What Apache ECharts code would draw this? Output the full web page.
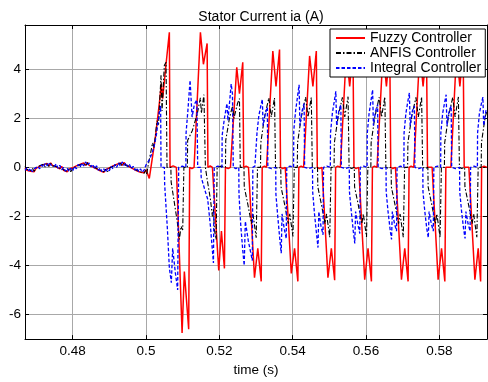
<!DOCTYPE html>
<html>
<head>
<meta charset="utf-8">
<script src="https://cdn.jsdelivr.net/npm/echarts@6/dist/echarts.min.js"></script>
<style>
  html, body { margin: 0; padding: 0; background: #ffffff; }
  #chart { width: 488px; height: 382px; }
</style>
</head>
<body>
<div id="chart"></div>
<script>
// Axis ticks
const xTicks = [0.48, 0.5, 0.52, 0.54, 0.56, 0.58];
const yTicks = [-6, -4, -2, 0, 2, 4];

// Sample times before the load step (shared by the three controllers)
const preStepTime = [
  0.4670, 0.4675, 0.4680, 0.4685, 0.4690, 0.4695, 0.4700, 0.4705, 0.4710, 0.4715,
  0.4720, 0.4725, 0.4730, 0.4735, 0.4740, 0.4745, 0.4750, 0.4755, 0.4760, 0.4765,
  0.4770, 0.4775, 0.4780, 0.4785, 0.4790, 0.4795, 0.4800, 0.4805, 0.4810, 0.4815,
  0.4820, 0.4825, 0.4830, 0.4835, 0.4840, 0.4845, 0.4850, 0.4855, 0.4860, 0.4865,
  0.4870, 0.4875, 0.4880, 0.4885, 0.4890, 0.4895, 0.4900, 0.4905, 0.4910, 0.4915,
  0.4920, 0.4925, 0.4930, 0.4935, 0.4940, 0.4945, 0.4950, 0.4955, 0.4960, 0.4965,
  0.4970, 0.4975, 0.4980, 0.4985, 0.4990, 0.4995
];

// Fuzzy Controller stator current
const fuzzyPre = [
  -0.02, -0.12, -0.04, -0.16, -0.08, -0.18, -0.04, -0.12, 0.04, -0.04,
  0.10, 0.02, 0.16, 0.06, 0.18, 0.08, 0.16, 0.02, 0.10, -0.06,
  0.04, -0.12, -0.04, -0.18, -0.08, -0.16, -0.02, -0.10, 0.06, -0.02,
  0.12, 0.04, 0.18, 0.08, 0.20, 0.08, 0.16, 0.02, 0.08, -0.06,
  0.02, -0.14, -0.06, -0.20, -0.10, -0.16, -0.02, -0.10, 0.06, -0.02,
  0.12, 0.04, 0.18, 0.08, 0.20, 0.10, 0.16, 0.02, 0.08, -0.06,
  0.00, -0.14, -0.06, -0.20, -0.12, -0.22
];
const fuzzyTime = [
  0.500,
  0.5009, 0.50145, 0.50254, 0.50363, 0.50418, 0.50454, 0.50546, 0.50637, 0.50656, 0.5074,
  0.50828, 0.50984, 0.51046, 0.51164, 0.51191, 0.5125,
  0.51311, 0.51484, 0.51566, 0.51667, 0.51689, 0.5175,
  0.51811, 0.51984, 0.52057, 0.52139, 0.52167, 0.5224,
  0.52303, 0.52475, 0.52549, 0.52639, 0.52664, 0.5273,
  0.52795, 0.52959, 0.53049, 0.53142, 0.53169, 0.5323,
  0.53287, 0.53459, 0.53546, 0.53642, 0.53669, 0.5373,
  0.53798, 0.53962, 0.54052, 0.54142, 0.54169, 0.5423,
  0.54298, 0.54462, 0.54552, 0.54645, 0.54672, 0.5473,
  0.54798, 0.54962, 0.55055, 0.55145, 0.55172, 0.5523,
  0.55301, 0.55464, 0.55555, 0.55645, 0.55672, 0.5573,
  0.55801, 0.55965, 0.56055, 0.56148, 0.56175, 0.5623,
  0.56301, 0.56464, 0.56557, 0.56648, 0.56675, 0.5673,
  0.56803, 0.56967, 0.57057, 0.57148, 0.57175, 0.5723,
  0.57303, 0.57467, 0.57557, 0.5765, 0.57678, 0.5773,
  0.57803, 0.57967, 0.5806, 0.5815, 0.58178, 0.5823,
  0.58314, 0.5847, 0.5856, 0.5865, 0.58678, 0.5873,
  0.58806, 0.5897, 0.5906, 0.59126, 0.59153, 0.5922, 0.593
];
const fuzzyCurrent = [
  -0.10,
  -0.45, 0.10, 1.2, 2.6, 3.4, 2.8, 4.2, 5.5, 0, 0.06,
  0, -6.75, -4.25, -6.6, 0, -0.05,
  0, 5.5, 4.2, 5.05, 0, 0.06,
  0, -4.2, -2.6, -4.12, 0, -0.05,
  0, 4.08, 3.0, 4.28, 0, 0.05,
  0, -4.5, -3.3, -4.65, 0, 0.05,
  0, 4.74, 3.3, 4.8, 0, -0.05,
  0, -4.32, -3.3, -4.65, 0, 0.05,
  0, 4.54, 3.3, 4.74, 0, -0.05,
  0, -4.5, -3.3, -4.6, 0, 0.05,
  0, 4.7, 3.3, 4.75, 0, -0.05,
  0, -4.58, -3.3, -4.65, 0, 0.05,
  0, 4.7, 3.3, 4.75, 0, -0.05,
  0, -4.58, -3.3, -4.65, 0, 0.05,
  0, 4.7, 3.3, 4.75, 0, -0.05,
  0, -4.58, -3.3, -4.65, 0, 0.05,
  0, 4.7, 3.3, 4.75, 0, -0.05,
  0, -4.58, -3.3, -4.65, 0, 0.05, 0
];

// ANFIS Controller stator current
const anfisPre = [
  0.04, -0.08, 0.00, -0.14, -0.04, -0.16, -0.02, -0.10, 0.06, -0.02,
  0.12, 0.02, 0.14, 0.04, 0.16, 0.06, 0.14, 0.04, 0.10, -0.04,
  0.04, -0.10, -0.02, -0.16, -0.06, -0.18, -0.04, -0.12, 0.04, -0.04,
  0.10, 0.02, 0.16, 0.06, 0.18, 0.06, 0.14, 0.04, 0.10, -0.04,
  0.00, -0.12, -0.04, -0.18, -0.08, -0.18, -0.04, -0.12, 0.04, -0.04,
  0.12, 0.04, 0.16, 0.06, 0.18, 0.08, 0.14, 0.04, 0.08, -0.04,
  -0.02, -0.12, -0.04, -0.18, -0.10, -0.24
];
const anfisTime = [
  0.500,
  0.5002, 0.50049, 0.5018, 0.5022, 0.5030, 0.5034, 0.5041, 0.50437, 0.505, 0.50546, 0.50573, 0.5062,
  0.50678, 0.50686, 0.50769, 0.50851, 0.50911, 0.50956, 0.51001, 0.51033, 0.5108,
  0.51128, 0.51136, 0.51265, 0.51401, 0.51483, 0.5151, 0.51579, 0.5162,
  0.51661, 0.51669, 0.51757, 0.51811, 0.51839, 0.51866, 0.51913, 0.5194, 0.5205,
  0.52167, 0.52175, 0.52276, 0.52358, 0.52399, 0.52495, 0.52549, 0.52571, 0.5262,
  0.52672, 0.5268, 0.52776, 0.52877, 0.52918, 0.53005, 0.53041, 0.5308,
  0.53123, 0.53131, 0.53232, 0.5335, 0.53415, 0.53505, 0.53533, 0.5360,
  0.53675, 0.53683, 0.53779, 0.5388, 0.53921, 0.54008, 0.54044, 0.5408,
  0.54126, 0.54134, 0.54235, 0.54353, 0.54418, 0.54508, 0.54536, 0.5460,
  0.54678, 0.54686, 0.54782, 0.54883, 0.54924, 0.55011, 0.55047, 0.5509,
  0.55129, 0.55137, 0.55238, 0.55356, 0.55421, 0.55511, 0.55539, 0.5561,
  0.55681, 0.55689, 0.55785, 0.55886, 0.55927, 0.56014, 0.5605, 0.5609,
  0.56132, 0.5614, 0.56241, 0.56359, 0.56424, 0.56514, 0.56542, 0.5661,
  0.56684, 0.56692, 0.56788, 0.56889, 0.5693, 0.57017, 0.57053, 0.5709,
  0.57135, 0.57143, 0.57244, 0.57362, 0.57427, 0.57517, 0.57545, 0.5761,
  0.57687, 0.57695, 0.57791, 0.57892, 0.57933, 0.5802, 0.58056, 0.5810,
  0.58138, 0.58146, 0.58247, 0.58365, 0.5843, 0.5852, 0.58548, 0.5861,
  0.5869, 0.58698, 0.58794, 0.58895, 0.58936, 0.59023, 0.59059, 0.591,
  0.59141, 0.59149, 0.5925, 0.593
];
const anfisCurrent = [
  -0.10,
  -0.30, 0, 1.0, 0.8, 1.9, 1.7, 3.75, 2.3, 4.15, 4.28, 0, 0.05,
  0, -0.6, -1.4, -2.2, -2.94, -2.4, -2.55, 0, 0.05,
  0, 1.1, 1.5, 2.2, 2.83, 2.2, 2.96, 0,
  0, -0.5, -1.3, -2.0, -1.7, -2.55, -2.94, 0, 0.05,
  0, 1.1, 2.0, 2.5, 2.0, 2.6, 2.8, 0, -0.05,
  0, -0.8, -1.5, -2.3, -1.9, -2.87, 0, 0.05,
  0, 1.0, 2.05, 2.83, 2.05, 2.83, 0, -0.05,
  0, -0.8, -1.5, -2.3, -1.9, -2.82, 0, 0.05,
  0, 1.0, 2.05, 2.86, 2.05, 2.85, 0, -0.05,
  0, -0.8, -1.5, -2.3, -1.9, -2.85, 0, 0.05,
  0, 1.0, 2.05, 2.85, 2.05, 2.88, 0, -0.05,
  0, -0.8, -1.5, -2.3, -1.9, -2.84, 0, 0.05,
  0, 1.0, 2.05, 2.85, 2.05, 2.87, 0, -0.05,
  0, -0.8, -1.5, -2.3, -1.9, -2.85, 0, 0.05,
  0, 1.0, 2.05, 2.85, 2.05, 2.87, 0, -0.05,
  0, -0.8, -1.5, -2.3, -1.9, -2.85, 0, 0.05,
  0, 1.0, 2.05, 2.85, 2.05, 2.87, 0, -0.05,
  0, -0.8, -1.5, -2.3, -1.9, -2.85, 0, 0.05,
  0, 1.0, 2.05, 2.3
];

// Integral Controller stator current
const integralPre = [
  -0.12, -0.02, -0.14, -0.04, -0.18, -0.06, -0.12, 0.04, -0.06, 0.10,
  0.00, 0.16, 0.06, 0.20, 0.10, 0.18, 0.04, 0.14, -0.04, 0.08,
  -0.10, 0.00, -0.16, -0.04, -0.18, -0.04, -0.14, 0.04, -0.06, 0.12,
  0.00, 0.18, 0.06, 0.22, 0.08, 0.18, 0.02, 0.12, -0.06, 0.06,
  -0.12, -0.02, -0.18, -0.06, -0.20, -0.04, -0.14, 0.04, -0.06, 0.12,
  0.00, 0.18, 0.06, 0.22, 0.08, 0.18, 0.02, 0.12, -0.06, 0.04,
  -0.12, -0.02, -0.18, -0.06, -0.20, -0.10
];
const integralTime = [
  0.5000, 0.5009, 0.50172, 0.50227, 0.50281, 0.50363, 0.50399, 0.5041, 0.5046,
  0.50501, 0.50509, 0.50583, 0.50637, 0.50691, 0.50727, 0.50801, 0.50863, 0.50891, 0.5099,
  0.51087, 0.51093, 0.51142, 0.51202, 0.51257, 0.5132, 0.51388, 0.5141, 0.5145,
  0.51497, 0.51505, 0.5162, 0.51683, 0.51757, 0.51839, 0.51861, 0.5196,
  0.52072, 0.52077, 0.52139, 0.52208, 0.52235, 0.52323, 0.52358, 0.5238, 0.5245,
  0.52531, 0.52536, 0.52586, 0.5264, 0.52678, 0.52709, 0.52791, 0.529, 0.52914, 0.5297,
  0.53022, 0.53027, 0.53077, 0.53131, 0.53172, 0.53194, 0.53254, 0.53309, 0.53323, 0.5343,
  0.53538, 0.53543, 0.53593, 0.53647, 0.53688, 0.5371, 0.5377, 0.53825, 0.53839, 0.5393,
  0.54025, 0.5403, 0.5408, 0.54134, 0.54175, 0.54197, 0.54257, 0.54312, 0.54326, 0.5443,
  0.54541, 0.54546, 0.54596, 0.5465, 0.54691, 0.54713, 0.54773, 0.54828, 0.54842, 0.5493,
  0.55027, 0.55032, 0.55082, 0.55136, 0.55177, 0.55199, 0.55259, 0.55314, 0.55328, 0.5543,
  0.55544, 0.55549, 0.55599, 0.55653, 0.55694, 0.55716, 0.55776, 0.55831, 0.55845, 0.5594,
  0.5603, 0.56035, 0.56085, 0.56139, 0.5618, 0.56202, 0.56262, 0.56317, 0.56331, 0.5644,
  0.56546, 0.56551, 0.56601, 0.56655, 0.56696, 0.56718, 0.56778, 0.56833, 0.56847, 0.5694,
  0.57033, 0.57038, 0.57088, 0.57142, 0.57183, 0.57205, 0.57265, 0.5732, 0.57334, 0.5744,
  0.57549, 0.57554, 0.57604, 0.57658, 0.57699, 0.57721, 0.57781, 0.57836, 0.5785, 0.5795,
  0.58036, 0.58041, 0.58091, 0.58145, 0.58186, 0.58208, 0.58268, 0.58323, 0.58337, 0.5844,
  0.58552, 0.58557, 0.58607, 0.58661, 0.58702, 0.58724, 0.58784, 0.58839, 0.58853, 0.5895,
  0.59038, 0.59043, 0.59093, 0.59147, 0.59188, 0.5921, 0.5927, 0.593
];
const integralCurrent = [
  0.10, 0.30, 0.6, 0.9, 1.3, 2.24, 2.5, 0, 0.05,
  0, -0.7, -2.5, -4.1, -4.7, -3.3, -4.3, -5.0, 0, 0.05,
  0, 1.4, 2.3, 3.55, 2.05, 2.57, 2.75, 0, -0.05,
  0, -0.4, -1.0, -1.3, -2.4, -3.9, 0, 0.05,
  0, 1.3, 2.0, 2.6, 1.9, 3.4, 3.0, 0, -0.05,
  0, -1.1, -2.4, -3.4, -4.0, -2.2, -3.0, -3.8, 0, 0.05,
  0, 1.4, 2.1, 2.5, 2.77, 1.7, 2.2, 2.45, 0, -0.05,
  0, -1.1, -2.0, -2.9, -3.5, -1.9, -2.5, -2.9, 0, 0.05,
  0, 1.5, 2.3, 2.9, 3.36, 1.7, 2.3, 2.6, 0, -0.05,
  0, -1.0, -1.9, -2.7, -3.27, -1.8, -2.4, -2.75, 0, 0.05,
  0, 1.4, 2.2, 2.7, 3.1, 1.7, 2.3, 2.55, 0, -0.05,
  0, -1.0, -1.8, -2.6, -3.1, -1.8, -2.3, -2.7, 0, 0.05,
  0, 1.4, 2.2, 2.75, 3.16, 1.7, 2.3, 2.55, 0, -0.05,
  0, -1.0, -1.8, -2.5, -2.94, -1.8, -2.3, -2.6, 0, 0.05,
  0, 1.4, 2.2, 2.7, 3.03, 1.7, 2.3, 2.5, 0, -0.05,
  0, -1.0, -1.8, -2.5, -2.87, -1.8, -2.3, -2.6, 0, 0.05,
  0, 1.4, 2.2, 2.65, 2.96, 1.7, 2.3, 2.5, 0, -0.05,
  0, -1.0, -1.8, -2.5, -2.9, -1.8, -2.3, -2.6, 0, 0.05,
  0, 1.4, 2.2, 2.6, 2.86, 1.7, 2.3, 2.4
];

// Join a pre-step segment and a post-step segment into [time, current] pairs
function pairs(preValues, times, values) {
  const out = preStepTime.map((t, i) => [t, preValues[i]]);
  times.forEach((t, i) => out.push([t, values[i]]));
  return out;
}

const FONT = 'Liberation Sans, Arial, Helvetica, sans-serif';
const X_MIN = 0.467, X_MAX = 0.593, Y_MIN = -7, Y_MAX = 5.8;

const chart = echarts.init(document.getElementById('chart'), null, { renderer: 'canvas' });

const mirrorTick = { show: true, inside: true, length: 4, lineStyle: { color: '#000', width: 1 } };

chart.setOption({
  animation: false,
  backgroundColor: '#ffffff',
  title: {
    text: 'Stator Current ia (A)',
    left: 256, top: 5, textAlign: 'center',
    textStyle: { fontFamily: FONT, fontSize: 14, fontWeight: 'normal', color: '#000' }
  },
  grid: { left: 25, right: 1, top: 25, bottom: 33, containLabel: false },
  legend: {
    orient: 'vertical',
    left: 330, top: 29,
    padding: [2, 4, 2, 5],
    itemGap: 1,
    itemWidth: 29,
    itemHeight: 14,
    backgroundColor: '#ffffff',
    borderColor: '#000000',
    borderWidth: 1,
    borderRadius: 0,
    itemStyle: { opacity: 0 },
    textStyle: { fontFamily: FONT, fontSize: 14, color: '#000', lineHeight: 14 },
    data: ['Fuzzy Controller', 'ANFIS Controller', 'Integral Controller']
  },
  xAxis: [
    {
      type: 'value', min: X_MIN, max: X_MAX, position: 'bottom',
      name: 'time (s)', nameLocation: 'middle', nameGap: 17,
      nameTextStyle: { fontFamily: FONT, fontSize: 13.5, color: '#000' },
      axisLine: { show: true, onZero: false, lineStyle: { color: '#000', width: 1 } },
      axisTick: { show: true, inside: true, length: 4, customValues: xTicks, lineStyle: { color: '#000' } },
      axisLabel: { show: true, customValues: xTicks, margin: 5, fontFamily: FONT, fontSize: 13.5, color: '#000',
        formatter: v => String(Number(v.toFixed(2))) },
      splitLine: { show: true, lineStyle: { color: '#a8a8a8', width: 1 } }
    },
    {
      type: 'value', min: X_MIN, max: X_MAX, position: 'top',
      axisLine: { show: true, onZero: false, lineStyle: { color: '#000', width: 1 } },
      axisTick: Object.assign({ customValues: xTicks }, mirrorTick),
      axisLabel: { show: false },
      splitLine: { show: false }
    }
  ],
  yAxis: [
    {
      type: 'value', min: Y_MIN, max: Y_MAX, position: 'left',
      axisLine: { show: true, onZero: false, lineStyle: { color: '#000', width: 1 } },
      axisTick: { show: true, inside: true, length: 4, customValues: yTicks, lineStyle: { color: '#000' } },
      axisLabel: { show: true, customValues: yTicks, margin: 4, fontFamily: FONT, fontSize: 13.5, color: '#000' },
      splitLine: { show: true, lineStyle: { color: '#a8a8a8', width: 1 } }
    },
    {
      type: 'value', min: Y_MIN, max: Y_MAX, position: 'right',
      axisLine: { show: true, onZero: false, lineStyle: { color: '#000', width: 1 } },
      axisTick: Object.assign({ customValues: yTicks }, mirrorTick),
      axisLabel: { show: false },
      splitLine: { show: false }
    }
  ],
  series: [
    {
      name: 'Fuzzy Controller', type: 'line', xAxisIndex: 0, yAxisIndex: 0,
      data: pairs(fuzzyPre, fuzzyTime, fuzzyCurrent),
      symbol: 'none', showSymbol: false, sampling: null, smooth: false,
      lineStyle: { color: '#ff0000', width: 1.5, type: 'solid' },
      itemStyle: { color: '#ff0000' }
    },
    {
      name: 'ANFIS Controller', type: 'line', xAxisIndex: 0, yAxisIndex: 0,
      data: pairs(anfisPre, anfisTime, anfisCurrent),
      symbol: 'none', showSymbol: false, sampling: null, smooth: false,
      lineStyle: { color: '#000000', width: 1.1, type: [5, 2, 1.5, 2] },
      itemStyle: { color: '#000000' }
    },
    {
      name: 'Integral Controller', type: 'line', xAxisIndex: 0, yAxisIndex: 0,
      data: pairs(integralPre, integralTime, integralCurrent),
      symbol: 'none', showSymbol: false, sampling: null, smooth: false,
      lineStyle: { color: '#0000ff', width: 1.3, type: [3.5, 2] },
      itemStyle: { color: '#0000ff' }
    }
  ]
});
</script>
</body>
</html>
